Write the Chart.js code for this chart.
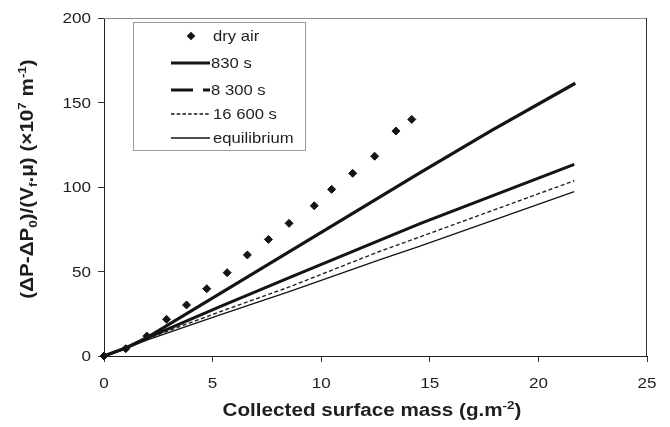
<!DOCTYPE html>
<html><head><meta charset="utf-8">
<script src="https://cdn.jsdelivr.net/npm/chart.js@4.4.0/dist/chart.umd.min.js"></script>
<style>html,body{margin:0;padding:0;background:#fff;}canvas{display:block;}</style>
</head><body>
<canvas id="c" width="670" height="427"></canvas>
<script>
// ---- data ----
const xTicks = [0, 5, 10, 15, 20, 25];
const yTicks = [0, 50, 100, 150, 200];
const xTickLabels = ['0', '5', '10', '15', '20', '25'];
const yTickLabels = ['0', '50', '100', '150', '200'];

const seriesNames = ['dry air', '830 s', '8 300 s', '16 600 s', 'equilibrium'];

const dryAirX = [0, 1.0, 1.97, 2.88, 3.8, 4.73, 5.67, 6.6, 7.57, 8.52, 9.68, 10.48, 11.45, 12.46, 13.44, 14.17];
const dryAirY = [0, 4.3, 11.8, 21.7, 30.2, 39.8, 49.3, 59.8, 69.0, 78.5, 88.9, 98.6, 108.1, 118.2, 133.1, 140.0];

const s830X = [0, 1, 2, 14.5, 17.85, 21.7];
const s830Y = [0, 4.8, 11, 108, 133.5, 161.4];

const s8300X = [0, 1, 2, 5.34, 8.56, 12.71, 14.55, 21.65];
const s8300Y = [0, 4.6, 10.8, 29.2, 46.5, 68.6, 78.3, 113.4];

const s16600X = [0, 1, 2, 5.34, 8.56, 12.71, 14.55, 21.65];
const s16600Y = [0, 4.5, 10.3, 26.2, 41.0, 62.0, 70.5, 103.7];

const eqX = [0, 1, 2, 5.34, 8.56, 12.71, 14.55, 21.65];
const eqY = [0, 4.4, 9.6, 24.3, 38.3, 57.0, 65.0, 97.2];

const xTitle = [{t: 'Collected surface mass (g.m'}, {t: '-2', sup: true}, {t: ')'}];
const yTitle = [{t: '(ΔP-ΔP'}, {t: '0', sub: true}, {t: ')/(V'}, {t: 'f', sub: true}, {t: '.μ) (×10'}, {t: '7', sup: true}, {t: ' m'}, {t: '-1', sup: true}, {t: ')'}];

// ---- helpers ----
const INK = '#141414';
const FONT = '"Liberation Sans", Arial, Helvetica, sans-serif';
const pts = (xs, ys) => xs.map((x, i) => ({x, y: ys[i]}));

function drawRich(ctx, segs, x, y, o) {
  ctx.save();
  ctx.translate(x, y);
  if (o.rotate) ctx.rotate(o.rotate);
  ctx.scale(o.sx || 1, 1);
  ctx.fillStyle = o.color || '#1e1e1e';
  ctx.textBaseline = 'alphabetic';
  ctx.textAlign = 'left';
  let total = 0;
  const m = segs.map(s => {
    const sz = (s.sub || s.sup) ? o.size * 0.65 : o.size;
    const f = (o.bold ? 'bold ' : '') + sz + 'px ' + FONT;
    ctx.font = f;
    const w = ctx.measureText(s.t).width;
    total += w;
    return {s, f, w};
  });
  let cx = o.align === 'center' ? -total / 2 : (o.align === 'right' ? -total : 0);
  const base = 0.36 * o.size;
  m.forEach(e => {
    ctx.font = e.f;
    let dy = 0;
    if (e.s.sub) dy = 0.22 * o.size;
    if (e.s.sup) dy = -0.42 * o.size;
    ctx.fillText(e.s.t, cx, base + dy);
    cx += e.w;
  });
  ctx.restore();
}

const decor = {
  id: 'decor',
  afterDraw(chart) {
    const ctx = chart.ctx;
    const a = chart.chartArea;
    const xs = chart.scales.x, ys = chart.scales.y;
    ctx.save();
    // frame top & right
    ctx.lineWidth = 1;
    ctx.strokeStyle = '#8a8a8a';
    ctx.beginPath(); ctx.moveTo(a.left, a.top + 0.5); ctx.lineTo(a.right, a.top + 0.5); ctx.stroke();
    ctx.strokeStyle = '#333';
    ctx.beginPath(); ctx.moveTo(a.right - 0.5, a.top); ctx.lineTo(a.right - 0.5, a.bottom); ctx.stroke();

    // tick labels
    xTicks.forEach((v, i) => drawRich(ctx, [{t: xTickLabels[i]}], xs.getPixelForValue(v), 383, {size: 14, sx: 1.22, align: 'center'}));
    yTicks.forEach((v, i) => drawRich(ctx, [{t: yTickLabels[i]}], 91, ys.getPixelForValue(v), {size: 14, sx: 1.22, align: 'right'}));

    // axis titles
    drawRich(ctx, xTitle, 372, 410, {size: 17.5, bold: true, sx: 1.18, align: 'center'});
    drawRich(ctx, yTitle, 27, 179, {size: 17.5, bold: true, sx: 1.18, align: 'center', rotate: -Math.PI / 2});

    // legend
    const bx = 133.5, by = 22.5, bw = 172, bh = 128;
    ctx.fillStyle = '#fff';
    ctx.fillRect(bx, by, bw, bh);
    ctx.strokeStyle = '#9a9a9a';
    ctx.lineWidth = 1;
    ctx.strokeRect(bx, by, bw, bh);
    const rows = [36, 63, 90, 114, 138];
    const x0 = 171, x1 = 210;
    // dry air diamond
    ctx.fillStyle = INK;
    const d = 4.3, cy0 = rows[0];
    ctx.beginPath(); ctx.moveTo(191, cy0 - d); ctx.lineTo(191 + d, cy0); ctx.lineTo(191, cy0 + d); ctx.lineTo(191 - d, cy0); ctx.closePath(); ctx.fill();
    // line samples
    const samples = [null,
      {w: 3, dash: []},
      {w: 3, dash: [22, 10, 7, 10]},
      {w: 1.3, dash: [3.5, 2.2]},
      {w: 1.3, dash: []}];
    for (let i = 1; i < 5; i++) {
      ctx.strokeStyle = INK;
      ctx.lineWidth = samples[i].w;
      ctx.setLineDash(samples[i].dash);
      ctx.beginPath(); ctx.moveTo(x0, rows[i]); ctx.lineTo(x1, rows[i]); ctx.stroke();
    }
    ctx.setLineDash([]);
    seriesNames.forEach((n, i) => drawRich(ctx, [{t: n}], i === 1 || i === 2 ? 211 : 213, rows[i], {size: 15, sx: 1.11, align: 'left'}));
    ctx.restore();
  }
};

new Chart(document.getElementById('c'), {
  type: 'scatter',
  data: {
    datasets: [
      {label: seriesNames[0], data: pts(dryAirX, dryAirY), showLine: false, pointStyle: 'rectRot', pointRadius: 4, pointBorderWidth: 1, backgroundColor: INK, borderColor: INK, clip: false, order: 0},
      {label: seriesNames[1], data: pts(s830X, s830Y), showLine: true, pointRadius: 0, borderColor: INK, borderWidth: 3.2, tension: 0},
      {label: seriesNames[2], data: pts(s8300X, s8300Y), showLine: true, pointRadius: 0, borderColor: INK, borderWidth: 3, tension: 0},
      {label: seriesNames[3], data: pts(s16600X, s16600Y), showLine: true, pointRadius: 0, borderColor: '#222', borderWidth: 1.4, borderDash: [4, 2.5], tension: 0},
      {label: seriesNames[4], data: pts(eqX, eqY), showLine: true, pointRadius: 0, borderColor: INK, borderWidth: 1.3, tension: 0}
    ]
  },
  options: {
    responsive: false,
    animation: false,
    events: [],
    layout: {padding: {top: 18, right: 23, left: 0, bottom: 0}},
    plugins: {legend: {display: false}, tooltip: {enabled: false}, title: {display: false}},
    scales: {
      x: {
        type: 'linear', min: 0, max: 25,
        afterBuildTicks: s => { s.ticks = xTicks.map(v => ({value: v})); },
        afterFit: s => { s.height = 71; },
        ticks: {display: false},
        grid: {display: true, drawOnChartArea: false, drawTicks: true, tickLength: 6, color: '#333', lineWidth: 1},
        border: {display: true, color: '#222', width: 1},
        title: {display: false}
      },
      y: {
        type: 'linear', min: 0, max: 200,
        afterBuildTicks: s => { s.ticks = yTicks.map(v => ({value: v})); },
        afterFit: s => { s.width = 104; },
        ticks: {display: false},
        grid: {display: true, drawOnChartArea: false, drawTicks: true, tickLength: 6, color: '#333', lineWidth: 1},
        border: {display: true, color: '#222', width: 1},
        title: {display: false}
      }
    }
  },
  plugins: [decor]
});
</script>
</body></html>
